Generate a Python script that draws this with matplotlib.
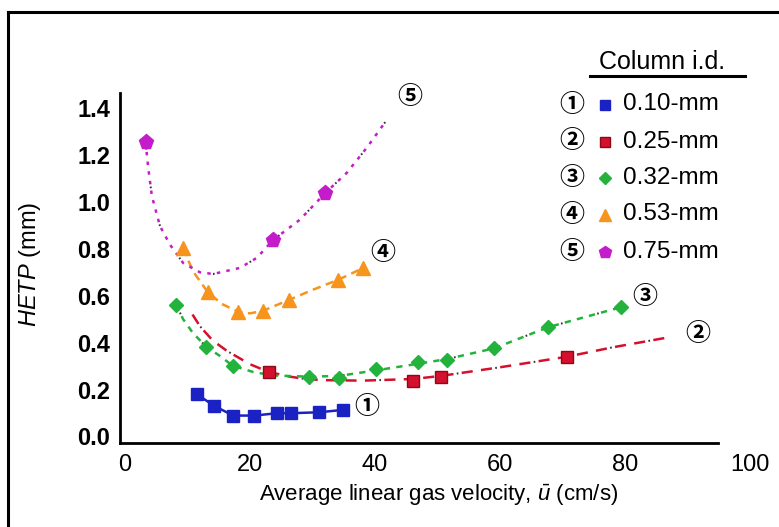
import matplotlib
matplotlib.use("Agg")
import matplotlib.pyplot as plt
from matplotlib.lines import Line2D

plt.rcParams["font.family"] = ["Liberation Sans", "Noto Sans CJK JP"]
plt.rcParams["mathtext.fontset"] = "custom"
plt.rcParams["mathtext.rm"] = "Liberation Sans"
plt.rcParams["mathtext.it"] = "Liberation Sans:italic"
plt.rcParams["lines.scale_dashes"] = False

# measured points (u in cm/s, HETP in mm)
blue_u = [11.5, 14.3, 17.3, 20.7, 24.3, 26.5, 31.0, 34.8]
blue_h = [0.180, 0.130, 0.089, 0.089, 0.099, 0.099, 0.103, 0.113]

red_u = [23.0, 46.1, 50.5, 70.7]
red_h = [0.275, 0.235, 0.255, 0.340]

green_u = [8.2, 13.0, 17.2, 29.4, 34.2, 40.2, 46.9, 51.5, 59.1, 67.7, 79.3]
green_h = [0.561, 0.383, 0.302, 0.255, 0.251, 0.287, 0.319, 0.326, 0.376, 0.466, 0.551]

orange_u = [9.2, 13.2, 18.1, 22.0, 26.2, 34.0, 38.0]
orange_h = [0.803, 0.617, 0.532, 0.535, 0.582, 0.667, 0.717]

purple_u = [3.3, 23.7, 32.0]
purple_h = [1.255, 0.838, 1.037]

# fitted curves
red_fit_u = [10.8, 12.0, 14.0, 16.3, 20.0, 23.0, 26.4, 29.1, 32.3, 38.0, 46.1, 50.5, 60.0, 70.7, 78.0, 86.4]
red_fit_h = [0.520, 0.470, 0.410, 0.365, 0.308, 0.275, 0.255, 0.244, 0.240, 0.238, 0.245, 0.258, 0.295, 0.340, 0.380, 0.420]

green_fit_u = [8.2, 9.3, 10.9, 13.0, 15.2, 17.2, 20.5, 23.7, 29.4, 34.2, 40.2, 46.9, 51.5, 59.1, 67.7, 79.3]
green_fit_h = [0.561, 0.500, 0.440, 0.383, 0.343, 0.302, 0.275, 0.260, 0.255, 0.258, 0.282, 0.310, 0.330, 0.376, 0.466, 0.551]

orange_fit_u = [9.2, 11.0, 13.2, 15.5, 18.1, 20.0, 22.0, 26.2, 30.0, 34.0, 38.0]
orange_fit_h = [0.803, 0.700, 0.617, 0.565, 0.532, 0.525, 0.535, 0.582, 0.625, 0.667, 0.717]

purple_fit_u = [3.3, 3.7, 4.3, 5.6, 7.2, 9.3, 12.0, 14.1, 18.4, 21.1, 23.7, 28.0, 32.0, 35.5, 38.7, 41.8]
purple_fit_h = [1.255, 1.150, 1.025, 0.897, 0.818, 0.740, 0.700, 0.693, 0.719, 0.762, 0.838, 0.925, 1.037, 1.125, 1.232, 1.347]

labels = ["0.10-mm", "0.25-mm", "0.32-mm", "0.53-mm", "0.75-mm"]
numbers = ["①", "②", "③", "④", "⑤"]
number_pos = [(38.7, 0.127), (91.7, 0.436), (83.2, 0.596), (41.3, 0.781), (45.6, 1.448)]

x_ticks = [0, 20, 40, 60, 80, 100]
y_ticks = [0.0, 0.2, 0.4, 0.6, 0.8, 1.0, 1.2, 1.4]

BLUE = "#1b22c4"
RED = "#d4102c"
GREEN = "#23b23c"
ORANGE = "#f7941d"
PURPLE = "#c41ccb"
DOT = "#333333"

styles = [
    dict(marker="s", color=BLUE, ms=8.5, mec=BLUE),
    dict(marker="s", color=RED, ms=9, mec="#8a0a18"),
    dict(marker="D", color=GREEN, ms=7, mec=GREEN),
    dict(marker="^", color=ORANGE, ms=10, mec=ORANGE),
    dict(marker="p", color=PURPLE, ms=11, mec=PURPLE),
]

fig = plt.figure(figsize=(7.79, 5.27), dpi=100)
ax = fig.add_axes([120 / 779, 84 / 527, 630 / 779, 350 / 527])


def fit_line(u, h, color, dash, gap, dot_every=None, lw=1.8):
    ax.plot(u, h, color=color, lw=lw, linestyle=(0, (dash, gap)),
            solid_capstyle="butt", dash_capstyle="butt", zorder=2)
    if dot_every:
        period = (dash + gap) * dot_every
        offset = period - (dash + gap / 2 - 0.6)
        ax.plot(u, h, color=DOT, lw=lw * 0.8, linestyle=(offset, (1.2, period - 1.2)),
                dash_capstyle="butt", zorder=2)


# curves
ax.plot(blue_u, blue_h, color=BLUE, lw=1.8, zorder=2)
fit_line(red_fit_u, red_fit_h, RED, 8, 6, dot_every=2)
fit_line(green_fit_u, green_fit_h, GREEN, 4.5, 4.5, dot_every=3)
fit_line(orange_fit_u, orange_fit_h, ORANGE, 6, 4)
fit_line(purple_fit_u, purple_fit_h, PURPLE, 2.5, 4.5, dot_every=4)

# markers
for (u, h), st in zip([(blue_u, blue_h), (red_u, red_h), (green_u, green_h),
                       (orange_u, orange_h), (purple_u, purple_h)], styles):
    ax.plot(u, h, linestyle="none", marker=st["marker"], color=st["color"],
            ms=st["ms"], mec=st["mec"], mew=1, zorder=3)

for num, (x, y) in zip(numbers, number_pos):
    ax.text(x, y, num, fontsize=18, fontweight="bold", ha="center", va="center")

ax.set_xlim(-0.8, 100)
ax.set_ylim(-0.028, 1.465)
ax.set_xticks(x_ticks)
ax.set_yticks(y_ticks)
ax.set_xticklabels([str(t) for t in x_ticks], fontsize=17)
ax.set_yticklabels([f"{t:.1f}" for t in y_ticks], fontsize=17, fontweight="bold")
ax.tick_params(length=0)
ax.tick_params(axis="x", pad=8)
ax.tick_params(axis="y", pad=7)

for side in ["top", "right"]:
    ax.spines[side].set_visible(False)
for side in ["left", "bottom"]:
    ax.spines[side].set_linewidth(2.0)
ax.spines["bottom"].set_bounds(-0.8, 94.9)

ax.set_xlabel(r"Average linear gas velocity, $\bar{u}$ (cm/s)", fontsize=16)
ax.xaxis.label.set_va("center")
ax.xaxis.set_label_coords(0.505, -0.149)
ax.set_ylabel(r"$HETP$ (mm)", fontsize=17)
ax.yaxis.label.set_va("center")
ax.yaxis.set_label_coords(-0.143, 0.51)

# legend block
fig.text(662 / 779, 1 - 62 / 527, "Column i.d.", fontsize=18, ha="center", va="center")
fig.add_artist(Line2D([590 / 779, 745 / 779], [1 - 76 / 527] * 2, color="black", lw=2.2))
row_y = [104.5, 141.5, 178.5, 214.5, 251.5]
for num, lab, st, ry in zip(numbers, labels, styles, row_y):
    yf = 1 - ry / 527
    fig.text(572 / 779, yf, num, fontsize=18, fontweight="bold", ha="center", va="center")
    fig.add_artist(Line2D([605 / 779], [yf], linestyle="none", marker=st["marker"],
                          color=st["color"], ms=st["ms"] * 0.85, mec=st["mec"], mew=1))
    fig.text(623 / 779, yf, lab, fontsize=17.5, ha="left", va="center")

# outer frame (top and left edges)
fig.add_artist(Line2D([8 / 779, 1.0], [1 - 12 / 527] * 2, color="black", lw=2.2))
fig.add_artist(Line2D([8 / 779] * 2, [0.0, 1 - 12 / 527], color="black", lw=2.2))

fig.savefig("out.png", dpi=100)
